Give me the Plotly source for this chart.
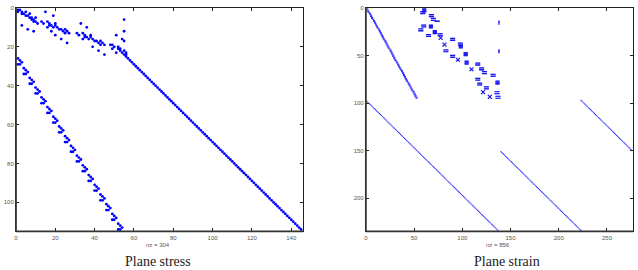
import plotly.graph_objects as go

# ---------------- Plane stress: sparsity pattern 114 x 145, nz = 304 ----------------
stress_m, stress_n, stress_nz = 114, 145, 304
# diagonal runs of nonzeros: (first row, first col, length)
stress_diag_runs = [(26, 57, 89)]
# scattered nonzeros of the upper-left block (row, col)
stress_rows = [1, 1, 2, 2, 3, 3, 2, 4, 4, 3, 5, 5, 6, 6, 7, 7, 8, 5,
               2, 4, 9, 11, 12,
               7, 8, 7, 8, 9, 9, 10, 9, 10, 11, 11, 12, 11, 12, 13, 8, 10, 13,
               8, 10, 12, 14, 16, 18,
               13, 14, 13, 14, 15, 15, 16, 15, 16, 17, 17, 18, 17, 18, 19, 14, 16, 19,
               14, 16, 6, 12, 17, 20, 22, 24,
               19, 20, 20, 21, 21, 22, 23, 22, 23, 24, 24, 25, 21, 23, 19]
stress_cols = [1, 2, 1, 3, 3, 4, 5, 5, 6, 7, 7, 8, 8, 9, 9, 10, 11, 10,
               15, 19, 3, 6, 9,
               13, 14, 16, 17, 17, 18, 19, 20, 21, 22, 23, 24, 25, 26, 27, 20, 16, 25,
               33, 36, 18, 20, 23, 26,
               31, 32, 34, 35, 35, 36, 37, 38, 39, 40, 41, 42, 43, 44, 45, 38, 34, 43,
               51, 54, 55, 55, 55, 39, 42, 45,
               49, 50, 52, 52, 53, 53, 54, 55, 56, 55, 56, 56, 49, 51, 48]
# lower-left band of ">" shaped groups: anchor row/col of each group and the group motif
stress_chev_rows = [26, 31, 36, 41, 46, 51, 56, 61, 66, 71, 76, 81, 86, 91, 96, 101, 106, 111]
stress_chev_cols = [1, 4, 7, 10, 13, 16, 19, 22, 25, 28, 31, 34, 37, 40, 43, 46, 49, 52]
chev_dr = [0, 1, 2, 3, 3]
chev_dc = [0, 1, 2, 1, 0]

# ---------------- Plane strain: sparsity pattern 234 x 276, nz = 856 ----------------
strain_m, strain_n, strain_nz = 234, 276, 856
strain_diag_runs = [(98, 1, 137), (97, 223, 54), (151, 140, 84)]
# steep upper-left band: column of the short dash in rows 1..95
strain_band_cols = [1, 1, 2, 2, 3, 4, 4, 5, 5, 6,
                    6, 7, 8, 8, 9, 9, 10, 10, 11, 11,
                    12, 13, 13, 14, 14, 15, 15, 16, 16, 17,
                    17, 18, 18, 19, 20, 20, 21, 21, 22, 22,
                    23, 23, 24, 25, 25, 26, 26, 27, 27, 28,
                    28, 29, 29, 30, 30, 31, 32, 32, 33, 33,
                    34, 34, 35, 35, 36, 37, 37, 38, 38, 39,
                    39, 40, 40, 41, 41, 42, 42, 43, 44, 44,
                    45, 45, 46, 46, 47, 47, 48, 49, 49, 50,
                    50, 51, 51, 52, 52]
strain_band_dash = [0, 1]
# coupling block: (row, col, kind) of each small sub-block
strain_marks = [
    (1, 59, 'sq'), (4, 57, 'eq'), (7, 66, 'eq'), (11, 68, 'eq'), (14, 72, 'dash'),
    (18, 58, 'eq'), (18, 66, 'sq'), (22, 55, 'eq'), (24, 70, 'sq'), (27, 75, 'eq'),
    (28, 63, 'eq'), (30, 76, 'xx'), (32, 88, 'eq'), (37, 96, 'eq'), (37, 80, 'xx'),
    (39, 97, 'sq'), (44, 81, 'eq'), (47, 102, 'sq'), (50, 88, 'eq'), (53, 94, 'xx'),
    (56, 103, 'sq'), (58, 114, 'eq'), (63, 108, 'xx'), (63, 118, 'eq'), (67, 121, 'eq'),
    (70, 130, 'eq'), (74, 114, 'eq'), (77, 135, 'sq'), (79, 116, 'eq'), (83, 123, 'eq'),
    (87, 120, 'xx'), (88, 134, 'eq'), (92, 127, 'xx'), (93, 135, 'eq'),
    (14, 138, 'bar'), (44, 138, 'bar'),
]
motif_rows = {'sq': [0, 0, 0, 0, 1, 1, 1, 1, 2, 2, 2, 2, 3, 3, 3, 3],
              'eq': [0, 0, 0, 0, 0, 2, 2, 2, 2, 2],
              'xx': [0, 0, 1, 1, 2, 2, 3, 3],
              'dash': [0, 0, 0, 0, 0], 'bar': [0, 1, 2, 3]}
motif_cols = {'sq': [0, 1, 2, 3, 0, 1, 2, 3, 0, 1, 2, 3, 0, 1, 2, 3],
              'eq': [0, 1, 2, 3, 4, 0, 1, 2, 3, 4],
              'xx': [0, 3, 1, 2, 1, 2, 0, 3],
              'dash': [0, 1, 2, 3, 4], 'bar': [0, 0, 0, 0]}

stress_xticks = [0, 20, 40, 60, 80, 100, 120, 140]
stress_yticks = [0, 20, 40, 60, 80, 100]
strain_xticks = [0, 50, 100, 150, 200, 250]
strain_yticks = [0, 50, 100, 150, 200]

titles = ["Plane stress", "Plane strain"]


def expand_runs(runs):
    rr, cc = [], []
    for r0, c0, n in runs:
        for k in range(n):
            rr.append(r0 + k)
            cc.append(c0 + k)
    return rr, cc


# ---- assemble plane stress entries ----
s_r, s_c = expand_runs(stress_diag_runs)
s_r += stress_rows
s_c += stress_cols
for ar, ac in zip(stress_chev_rows, stress_chev_cols):
    for dr, dc in zip(chev_dr, chev_dc):
        s_r.append(ar + dr)
        s_c.append(ac + dc)

# ---- assemble plane strain entries ----
p_r, p_c = expand_runs(strain_diag_runs)
for i, c in enumerate(strain_band_cols):
    for d in strain_band_dash:
        p_r.append(i + 1)
        p_c.append(c + d)
m_r, m_c = [], []
for r0, c0, kind in strain_marks:
    for dr, dc in zip(motif_rows[kind], motif_cols[kind]):
        m_r.append(r0 + dr)
        m_c.append(c0 + dc)

W, H = 638, 270
fig = go.Figure()
fig.add_trace(go.Scatter(x=s_c, y=s_r, mode='markers', xaxis='x', yaxis='y',
                         marker=dict(symbol='circle', size=2.8, color='#0000ff', line=dict(width=0)),
                         hoverinfo='skip', showlegend=False))
fig.add_trace(go.Scatter(x=p_c, y=p_r, mode='markers', xaxis='x2', yaxis='y2',
                         marker=dict(symbol='circle', size=1.3, color='#2a2aff', line=dict(width=0)),
                         hoverinfo='skip', showlegend=False))
fig.add_trace(go.Scatter(x=m_c, y=m_r, mode='markers', xaxis='x2', yaxis='y2',
                         marker=dict(symbol='square', size=1.3, color='#1515ee', line=dict(width=0)),
                         hoverinfo='skip', showlegend=False))

ax_common = dict(showgrid=False, zeroline=False, showline=True, linecolor='#222', linewidth=1,
                 mirror='ticks', ticks='inside', ticklen=3, tickcolor='#222', tickwidth=1,
                 tickfont=dict(family='Liberation Sans', size=6, color='#555'))
ydom = [1 - 231 / H, 1 - 5 / H]
fig.update_layout(
    width=W, height=H, margin=dict(l=0, r=0, t=0, b=0),
    paper_bgcolor='white', plot_bgcolor='white',
    xaxis=dict(domain=[14 / W, 302 / W], range=[0, stress_n + 1], tickvals=stress_xticks,
               anchor='y', **ax_common),
    yaxis=dict(domain=ydom, range=[stress_m + 1, 0], tickvals=stress_yticks, anchor='x', **ax_common),
    xaxis2=dict(domain=[365 / W, 633 / W], range=[0, strain_n + 1], tickvals=strain_xticks,
                anchor='y2', **ax_common),
    yaxis2=dict(domain=ydom, range=[strain_m + 1, 0], tickvals=strain_yticks, anchor='x2', **ax_common),
)

shapes = []
for xr, yr in [('x domain', 'y domain'), ('x2 domain', 'y2 domain')]:
    shapes.append(dict(type='line', xref=xr, yref=yr, x0=0, x1=0, y0=0, y1=1,
                       line=dict(color='#333', width=1.8)))
    shapes.append(dict(type='line', xref=xr, yref=yr, x0=0, x1=1, y0=0, y1=0,
                       line=dict(color='#333', width=1.8)))
fig.update_layout(shapes=shapes)

ann = []
for cx, nz in [(156, stress_nz), (498, strain_nz)]:
    ann.append(dict(x=cx / W, y=1 - 245 / H, xref='paper', yref='paper', showarrow=False,
                    text='nz = %d' % nz, font=dict(family='Liberation Sans', size=6, color='#555'),
                    xanchor='center', yanchor='middle'))
for cx, t in [(156, titles[0]), (507, titles[1])]:
    ann.append(dict(x=cx / W, y=1 - 261 / H, xref='paper', yref='paper', showarrow=False,
                    text=t, font=dict(family='Liberation Serif', size=14, color='#222'),
                    xanchor='center', yanchor='middle'))
fig.update_layout(annotations=ann)

fig.write_html("out.html")
